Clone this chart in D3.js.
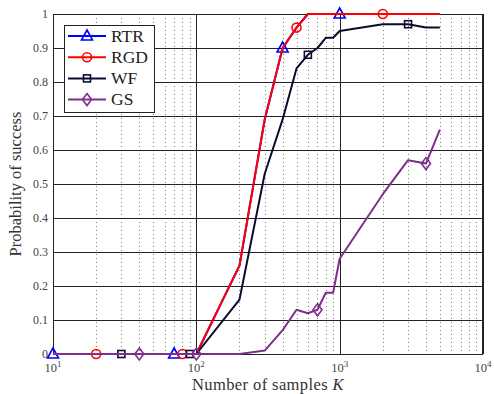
<!DOCTYPE html>
<html><head><meta charset="utf-8">
<script src="https://cdn.jsdelivr.net/npm/d3@7"></script>
<style>body{margin:0;background:#fff}</style>
</head><body><svg id="c" width="494" height="394"></svg>
<script>
const samplesK = [10,20,30,40,50,60,70,80,90,100,200,300,400,500,600,700,800,900,1000,2000,3000,4000,5000];
const rtrValues = [0,0,0,0,0,0,0,0,0,0,0.26,0.69,0.9,0.96,1,1,1,1,1,1,1,1,1];
const rgdValues = [0,0,0,0,0,0,0,0,0,0,0.26,0.69,0.9,0.96,1,1,1,1,1,1,1,1,1];
const wfValues  = [0,0,0,0,0,0,0,0,0,0,0.16,0.53,0.69,0.84,0.88,0.90,0.93,0.93,0.95,0.97,0.97,0.96,0.96];
const gsValues  = [0,0,0,0,0,0,0,0,0,0,0,0.01,0.07,0.13,0.12,0.13,0.18,0.18,0.28,0.47,0.57,0.56,0.66];
const seriesNames = ["RTR","RGD","WF","GS"];
const markerIdx = [[0,6,12,18],[1,7,13,19],[2,8,14,20],[3,9,15,21]];
const yTicks = [0,0.1,0.2,0.3,0.4,0.5,0.6,0.7,0.8,0.9,1];
const yTickLabels = ["0","0.1","0.2","0.3","0.4","0.5","0.6","0.7","0.8","0.9","1"];
const xTickExps = [1,2,3,4];

const colors = ["#0000ff","#ff0000","#0b0b2e","#7e2f8e"];
const shapes = ["triangle","circle","square","diamond"];
const allValues = [rtrValues, rgdValues, wfValues, gsValues];

const svg = d3.select("#c");
const m = {l:53, r:483, t:14, b:354};
const x = d3.scaleLog().domain([10,10000]).range([m.l, m.r]);
const y = d3.scaleLinear().domain([0,1]).range([m.b, m.t]);
const font = "'Liberation Serif', 'DejaVu Serif', serif";

// minor grid (dotted)
const minor = [];
for (let e=1;e<4;e++) for (let k=2;k<10;k++) minor.push(k*Math.pow(10,e));
svg.append("g").selectAll("line").data(minor).join("line")
  .attr("x1",d=>Math.round(x(d))+0.5).attr("x2",d=>Math.round(x(d))+0.5)
  .attr("y1",m.t).attr("y2",m.b)
  .attr("stroke","#777").attr("stroke-width",1).attr("stroke-dasharray","1,3");
// major grid
svg.append("g").selectAll("line").data(yTicks).join("line")
  .attr("x1",m.l).attr("x2",m.r)
  .attr("y1",d=>Math.round(y(d))+0.5).attr("y2",d=>Math.round(y(d))+0.5)
  .attr("stroke","#222").attr("stroke-width",1);
svg.append("g").selectAll("line").data(xTickExps).join("line")
  .attr("x1",d=>Math.round(x(Math.pow(10,d)))+0.5).attr("x2",d=>Math.round(x(Math.pow(10,d)))+0.5)
  .attr("y1",m.t).attr("y2",m.b)
  .attr("stroke","#222").attr("stroke-width",1);

// frame
svg.append("rect").attr("x",m.l+0.5).attr("y",m.t+0.5)
  .attr("width",m.r-m.l-1).attr("height",m.b-m.t).attr("fill","none")
  .attr("stroke","#222").attr("stroke-width",1);

// y tick labels
svg.append("g").selectAll("text").data(yTicks).join("text")
  .attr("x",m.l-5).attr("y",d=>y(d)+4).attr("text-anchor","end")
  .attr("font-family",font).attr("font-size",12).attr("fill","#444")
  .text((d,i)=>yTickLabels[i]);
// x tick labels
const xl = svg.append("g").selectAll("text").data(xTickExps).join("text")
  .attr("x",d=>x(Math.pow(10,d))).attr("y",m.b+18).attr("text-anchor","middle")
  .attr("font-family",font).attr("font-size",12.5).attr("fill","#444");
xl.append("tspan").text("10");
xl.append("tspan").attr("dy",-5).attr("font-size",9).text(d=>d);

// axis labels
svg.append("text").attr("x",268).attr("y",390).attr("text-anchor","middle")
  .attr("font-family",font).attr("font-size",16.5).attr("fill","#333")
  .attr("letter-spacing",0.4)
  .html("Number of samples <tspan font-style='italic'>K</tspan>");
svg.append("text").attr("transform",`translate(21,${(m.t+m.b)/2}) rotate(-90)`)
  .attr("text-anchor","middle").attr("font-family",font).attr("font-size",16.5).attr("fill","#333")
  .text("Probability of success");

function drawMarker(g, shape, cx, cy, color){
  let p;
  if (shape==="triangle") p = g.append("path").attr("d",`M${cx},${cy-6} L${cx+5.5},${cy+4} L${cx-5.5},${cy+4} Z`);
  else if (shape==="circle") p = g.append("circle").attr("cx",cx).attr("cy",cy).attr("r",4.5);
  else if (shape==="square") p = g.append("rect").attr("x",cx-3.5).attr("y",cy-3.5).attr("width",7).attr("height",7);
  else p = g.append("path").attr("d",`M${cx},${cy-6} L${cx+4.5},${cy} L${cx},${cy+6} L${cx-4.5},${cy} Z`);
  p.attr("fill","none").attr("stroke",color).attr("stroke-width",1.6);
}

const line = d3.line().x(d=>x(d[0])).y(d=>y(d[1]));
const plot = svg.append("g");
allValues.forEach((vals,si)=>{
  const pts = samplesK.map((k,i)=>[k,vals[i]]);
  const g = plot.append("g");
  g.append("path").datum(pts).attr("d",line).attr("fill","none")
    .attr("stroke",colors[si]).attr("stroke-width",2).attr("stroke-linejoin","round");
  markerIdx[si].forEach(i=>drawMarker(g, shapes[si], x(samplesK[i]), y(vals[i]), colors[si]));
});

// legend
const lg = svg.append("g");
lg.append("rect").attr("x",64.5).attr("y",25.5).attr("width",90).attr("height",87)
  .attr("fill","#fff").attr("stroke","#222").attr("stroke-width",1);
seriesNames.forEach((n,i)=>{
  const yy = 36 + i*21.2;
  lg.append("line").attr("x1",68).attr("x2",106).attr("y1",yy).attr("y2",yy)
    .attr("stroke",colors[i]).attr("stroke-width",2);
  drawMarker(lg, shapes[i], 87, yy, colors[i]);
  lg.append("text").attr("x",111).attr("y",yy+5.5).attr("font-family",font)
    .attr("font-size",17.5).attr("fill","#222").text(n);
});
</script></body></html>
